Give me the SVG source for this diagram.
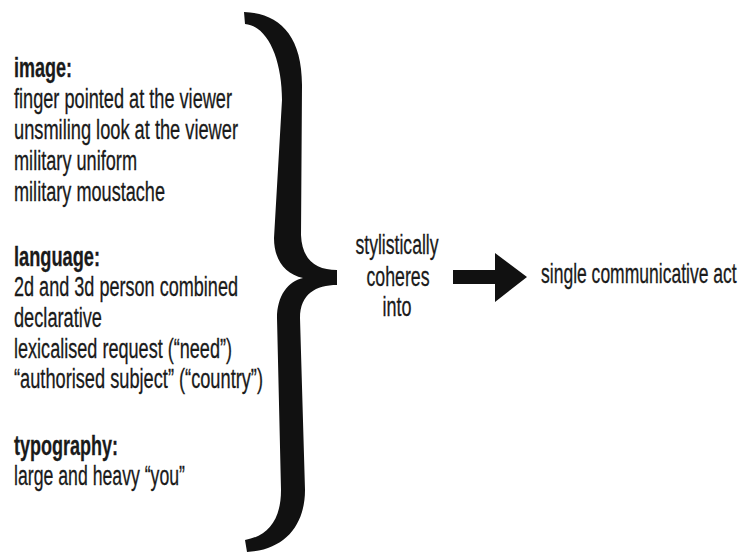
<svg xmlns="http://www.w3.org/2000/svg" width="745" height="554" viewBox="0 0 745 554">
<style>
text{font-family:"Liberation Sans",Arial,sans-serif;font-size:27px;fill:#1a1a1a;stroke:#1a1a1a;stroke-width:0.3}
.h{font-weight:bold}
.c{text-anchor:middle}
</style>
<rect width="745" height="554" fill="#ffffff"/>
<g id="image-list">
<text class="h" x="14" y="77" textLength="58" lengthAdjust="spacingAndGlyphs">image:</text>
<text x="14" y="108" textLength="218" lengthAdjust="spacingAndGlyphs">finger pointed at the viewer</text>
<text x="14" y="139" textLength="224" lengthAdjust="spacingAndGlyphs">unsmiling look at the viewer</text>
<text x="14" y="170" textLength="123" lengthAdjust="spacingAndGlyphs">military uniform</text>
<text x="14" y="201" textLength="151" lengthAdjust="spacingAndGlyphs">military moustache</text>
</g>
<g id="language-list">
<text class="h" x="14" y="266" textLength="86" lengthAdjust="spacingAndGlyphs">language:</text>
<text x="14" y="296" textLength="224" lengthAdjust="spacingAndGlyphs">2d and 3d person combined</text>
<text x="14" y="327" textLength="88" lengthAdjust="spacingAndGlyphs">declarative</text>
<text x="14" y="358" textLength="218" lengthAdjust="spacingAndGlyphs">lexicalised request (“need”)</text>
<text x="14" y="388" textLength="249" lengthAdjust="spacingAndGlyphs">“authorised subject” (“country”)</text>
</g>
<g id="typography-list">
<text class="h" x="14" y="455" textLength="104" lengthAdjust="spacingAndGlyphs">typography:</text>
<text x="14" y="485" textLength="171" lengthAdjust="spacingAndGlyphs">large and heavy “you”</text>
</g>
<g id="brace">
<path fill="#111" d="M 244,12 C 278,13 302,34 302,85 L 301,235 C 302,260 316,270 337,270 L 337,285 C 316,285 300,294 300,318 L 305,490 C 305,525 285,550 247,552 L 245,540 C 268,536 281,520 281,490 L 277,318 C 277,296 288,281 303,278 C 285,274 274,260 274,238 L 282,100 C 282,60 268,26 245,24 Z"/>
</g>
<g id="middle-label">
<text class="c" x="397" y="254" textLength="83" lengthAdjust="spacingAndGlyphs">stylistically</text>
<text class="c" x="398" y="286" textLength="63" lengthAdjust="spacingAndGlyphs">coheres</text>
<text class="c" x="397" y="316" textLength="29" lengthAdjust="spacingAndGlyphs">into</text>
</g>
<g id="connectors">
<polygon fill="#111" points="453,270 495,270 495,253 527,277 495,302 495,284 453,284"/>
</g>
<g id="result">
<text transform="translate(541,283) scale(0.65,1)" x="0" y="0" textLength="301" lengthAdjust="spacingAndGlyphs">single communicative act</text>
</g>
</svg>
